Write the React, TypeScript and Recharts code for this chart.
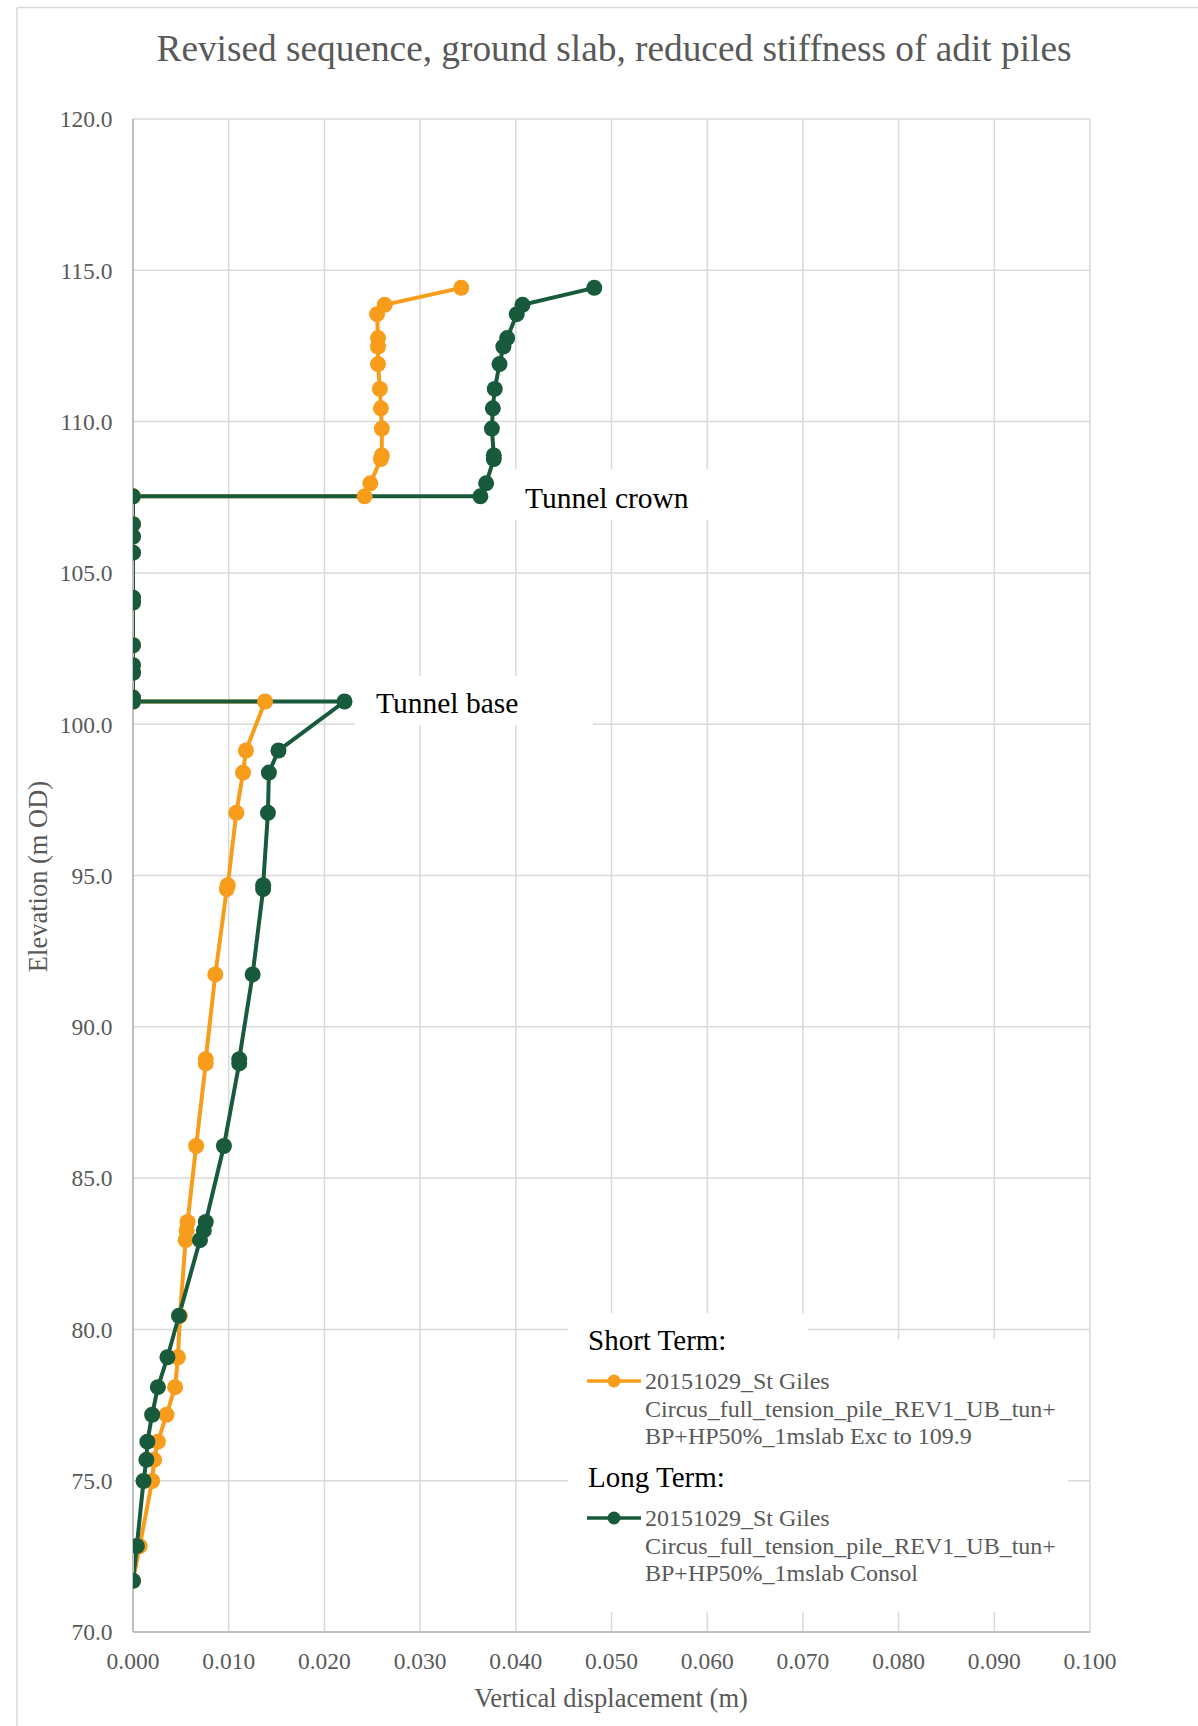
import { ComposedChart, Line, XAxis, YAxis, CartesianGrid } from "recharts";

// pile nodes, top to bottom (m OD) - both runs share the same nodes
const elevations = [
  114.42, 113.86, 113.55, 112.76, 112.48, 111.9, 111.08, 110.44, 109.77, 108.88,
  108.76, 107.96, 107.53, 107.53, 106.61, 106.2, 105.67, 104.18, 104.02, 102.61,
  101.95, 101.7, 100.88, 100.75, 100.75, 99.13, 98.4, 97.07, 94.68, 94.55,
  91.73, 88.93, 88.79, 86.06, 83.55, 83.27, 82.95, 80.45, 79.08, 78.09,
  77.18, 76.29, 75.69, 74.99, 72.84, 71.69,
];

// vertical displacement (m), short term = excavation to 109.9
const shortTermDisp = [
  0.0343, 0.0263, 0.0255, 0.0256, 0.0256, 0.0256, 0.0258, 0.0259, 0.026, 0.026,
  0.0259, 0.0248, 0.0242, 0, 0, 0, 0, 0, 0, 0,
  0, 0, 0, 0, 0.0138, 0.0118, 0.0115, 0.0108, 0.0099, 0.0098,
  0.0086, 0.0076, 0.0076, 0.0066, 0.0057, 0.0056, 0.0055, 0.0049, 0.0047, 0.0044,
  0.0035, 0.0026, 0.0022, 0.002, 0.0007, 0,
];

// long term = consolidation
const longTermDisp = [
  0.0482, 0.0407, 0.0401, 0.0391, 0.0387, 0.0383, 0.0378, 0.0376, 0.0375, 0.0377,
  0.0377, 0.0369, 0.0363, 0, 0, 0, 0, 0, 0, 0,
  0, 0, 0, 0, 0.0221, 0.0152, 0.0142, 0.0141, 0.0136, 0.0136,
  0.0125, 0.0111, 0.0111, 0.0095, 0.0076, 0.0074, 0.007, 0.0048, 0.0036, 0.0026,
  0.002, 0.0015, 0.0014, 0.0011, 0.0004, 0,
];

const xTicks = [0, 0.01, 0.02, 0.03, 0.04, 0.05, 0.06, 0.07, 0.08, 0.09, 0.1];
const yTicks = [70, 75, 80, 85, 90, 95, 100, 105, 110, 115, 120];

const shortTermLabel = [
  "20151029_St Giles",
  "Circus_full_tension_pile_REV1_UB_tun+",
  "BP+HP50%_1mslab Exc to 109.9",
];
const longTermLabel = [
  "20151029_St Giles",
  "Circus_full_tension_pile_REV1_UB_tun+",
  "BP+HP50%_1mslab Consol",
];

const SERIF = "'Liberation Serif', 'Times New Roman', serif";
const ORANGE = "#F89C1C";
const GREEN = "#175A3C";
const GRID = "#d9d9d9";
const TEXT = "#595959";

const toPoints = (disp: number[]) => disp.map((x, i) => ({ x, y: elevations[i] }));

const shortTerm = toPoints(shortTermDisp);
const longTerm = toPoints(longTermDisp);

function LegendBlock({ top, heading, lines, color }: { top: number; heading: string; lines: string[]; color: string }) {
  return (
    <g>
      <text x={588} y={top} fontSize={29} fill="#000" fontFamily={SERIF}>
        {heading}
      </text>
      <line x1={587} x2={641} y1={top + 31} y2={top + 31} stroke={color} strokeWidth={3.5} />
      <circle cx={614} cy={top + 31} r={6.5} fill={color} />
      {lines.map((t, i) => (
        <text key={i} x={645} y={top + 39 + i * 27.5} fontSize={24} fill={TEXT} fontFamily={SERIF}>
          {t}
        </text>
      ))}
    </g>
  );
}

export default function App() {
  return (
    <div
      style={{
        position: "absolute",
        left: 0,
        top: 0,
        width: 1198,
        height: 1726,
        overflow: "hidden",
        background: "#fff",
      }}
    >
      <ComposedChart width={1198} height={1726} margin={{ top: 119, right: 108, bottom: 0, left: 0 }}>
        <CartesianGrid stroke={GRID} strokeWidth={1.5} />
        <XAxis
          type="number"
          dataKey="x"
          domain={[0, 0.1]}
          ticks={xTicks}
          interval={0}
          allowDataOverflow
          height={94}
          tickFormatter={(v: number) => v.toFixed(3)}
          axisLine={{ stroke: "#bfbfbf", strokeWidth: 2 }}
          tickLine={false}
          tickMargin={14}
          tick={{ fontSize: 23.5, fill: TEXT, fontFamily: SERIF }}
        />
        <YAxis
          type="number"
          domain={[70, 120]}
          ticks={yTicks}
          interval={0}
          allowDataOverflow
          width={133}
          tickFormatter={(v: number) => v.toFixed(1)}
          axisLine={{ stroke: "#bfbfbf", strokeWidth: 2 }}
          tickLine={false}
          tickMargin={14.5}
          tick={{ fontSize: 23.5, fill: TEXT, fontFamily: SERIF }}
        />
        <Line
          data={shortTerm}
          dataKey="y"
          type="linear"
          stroke={ORANGE}
          strokeWidth={4}
          dot={{ r: 8, fill: ORANGE, stroke: ORANGE, strokeWidth: 0 }}
          activeDot={false}
          isAnimationActive={false}
        />
        <Line
          data={longTerm}
          dataKey="y"
          type="linear"
          stroke={GREEN}
          strokeWidth={4}
          dot={{ r: 8, fill: GREEN, stroke: GREEN, strokeWidth: 0 }}
          activeDot={false}
          isAnimationActive={false}
        />
      </ComposedChart>

      <svg
        width={1198}
        height={1726}
        style={{ position: "absolute", left: 0, top: 0, pointerEvents: "none" }}
      >
        {/* chart frame */}
        <line x1={17} x2={1198} y1={7.5} y2={7.5} stroke={GRID} strokeWidth={1.5} />
        <line x1={17} x2={17} y1={7.5} y2={1726} stroke={GRID} strokeWidth={1.5} />

        <text x={614} y={61} textAnchor="middle" fontSize={37.3} fill={TEXT} fontFamily={SERIF}>
          Revised sequence, ground slab, reduced stiffness of adit piles
        </text>
        <text x={611} y={1707} textAnchor="middle" fontSize={26.5} fill={TEXT} fontFamily={SERIF}>
          Vertical displacement (m)
        </text>
        <text
          transform="translate(46.5,876.5) rotate(-90)"
          textAnchor="middle"
          fontSize={26.5}
          fill={TEXT}
          fontFamily={SERIF}
        >
          Elevation (m OD)
        </text>

        {/* tunnel annotations */}
        <rect x={500} y={469} width={220} height={51} fill="#fff" />
        <text x={525} y={508} fontSize={29.5} fill="#000" fontFamily={SERIF}>
          Tunnel crown
        </text>
        <rect x={355} y={676} width={238} height={49} fill="#fff" />
        <text x={376} y={713} fontSize={29.5} fill="#000" fontFamily={SERIF}>
          Tunnel base
        </text>

        {/* legend */}
        <rect x={568} y={1313} width={240} height={30} fill="#fff" />
        <rect x={568} y={1339} width={500} height={273} fill="#fff" />
        <LegendBlock top={1350} heading="Short Term:" lines={shortTermLabel} color={ORANGE} />
        <LegendBlock top={1487} heading="Long Term:" lines={longTermLabel} color={GREEN} />
      </svg>
    </div>
  );
}
